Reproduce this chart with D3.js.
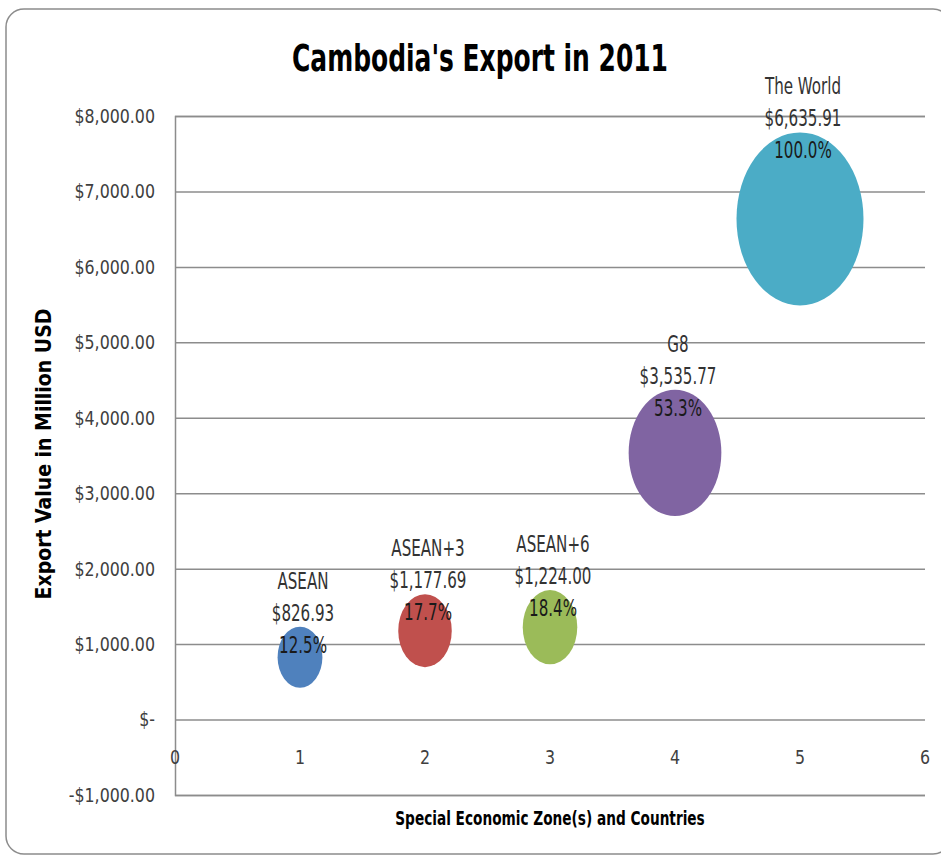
<!DOCTYPE html>
<html>
<head>
<meta charset="utf-8">
<script src="https://cdn.jsdelivr.net/npm/d3@7"></script>
<style>
  body { margin: 0; background: #fff; }
  svg { display: block; }
  text { font-family: "Liberation Sans Narrow", "DejaVu Sans Condensed", "Open Sans", sans-serif; }
</style>
</head>
<body>
<svg width="941" height="860"></svg>
<script>
// data
const groups = ["ASEAN", "ASEAN+3", "ASEAN+6", "G8", "The World"];
const positions = [1, 2, 3, 4, 5];
const exports = [826.93, 1177.69, 1224.0, 3535.77, 6635.91];
const shares = [12.5, 17.7, 18.4, 53.3, 100.0];
const colors = ["#4f81bd", "#c0504d", "#9bbb59", "#8064a2", "#4bacc6"];
const yTicks = [-1000, 0, 1000, 2000, 3000, 4000, 5000, 6000, 7000, 8000];
const xTicks = [0, 1, 2, 3, 4, 5, 6];

const svg = d3.select("svg");

// outer chart frame
svg.append("rect")
  .attr("x", 6).attr("y", 9)
  .attr("width", 945).attr("height", 845)
  .attr("rx", 18)
  .attr("fill", "#fff")
  .attr("stroke", "#8c8c8c")
  .attr("stroke-width", 1.5);

const plotLeft = 175, plotRight = 925, plotTop = 116, plotBottom = 795;

const x = d3.scaleLinear().domain([0, 6]).range([plotLeft, plotRight]);
const y = d3.scaleLinear().domain([-1000, 8000]).range([plotBottom, plotTop]);
const rx = d3.scaleSqrt().domain([0, d3.max(exports)]).range([0, 63.5]);
const ry = d3.scaleSqrt().domain([0, d3.max(exports)]).range([0, 86.5]);

const money = d3.format(",.2f");
function fmtTick(v) {
  if (v === 0) return "$-";
  return (v < 0 ? "-$" : "$") + money(Math.abs(v));
}

// narrow text: the original has tall, squeezed lettering
function label(px, py, str, size, sx, opts = {}) {
  return svg.append("text")
    .attr("transform", `translate(${px},${py}) scale(${sx},1)`)
    .attr("dy", "0.35em")
    .attr("text-anchor", opts.anchor || "middle")
    .attr("font-size", size)
    .attr("font-weight", opts.weight || "normal")
    .attr("fill", opts.fill || "#000")
    .text(str);
}

// gridlines + y labels
const tickSx = 0.88;
const yAxis = d3.axisLeft(y).tickValues(yTicks).tickSize(-(plotRight - plotLeft)).tickFormat(fmtTick);
const gy = svg.append("g").attr("transform", `translate(${plotLeft},0)`).call(yAxis);
gy.select(".domain").attr("stroke", "#8c8c8c").attr("stroke-width", 1.5);
gy.selectAll(".tick line").attr("stroke", "#8c8c8c").attr("stroke-width", 1.5);
gy.selectAll(".tick text")
  .attr("x", -20 / tickSx)
  .attr("transform", `scale(${tickSx},1)`)
  .attr("font-size", 20)
  .attr("fill", "#404040");

// x tick labels (axis line sits at zero, labels below it)
const xAxis = d3.axisBottom(x).tickValues(xTicks).tickSize(0).tickPadding(0).tickFormat(d3.format("d"));
const gx = svg.append("g").attr("transform", `translate(0,${y(0) + 30})`).call(xAxis);
gx.select(".domain").remove();
gx.selectAll(".tick text")
  .attr("x", (d) => 0)
  .attr("transform", `scale(${tickSx},1)`)
  .attr("font-size", 20)
  .attr("fill", "#404040");
gx.selectAll(".tick")
  .attr("transform", (d) => `translate(${x(d)},0)`);

// bubbles
const bubbles = svg.append("g");
groups.forEach((g, i) => {
  bubbles.append("ellipse")
    .attr("cx", x(positions[i]))
    .attr("cy", y(exports[i]))
    .attr("rx", rx(exports[i]))
    .attr("ry", ry(exports[i]))
    .attr("fill", colors[i]);
});

// data labels
groups.forEach((g, i) => {
  const cx = x(positions[i]) + 3;
  const topY = y(exports[i]) - ry(exports[i]);
  const lines = [g, "$" + money(exports[i]), shares[i].toFixed(1) + "%"];
  lines.forEach((t, j) => {
    label(cx, topY + 18 - (2 - j) * 32, t, 23, 0.73, { fill: j === 2 ? "#1a1a1a" : "#333" });
  });
});

// title
label(480, 58, "Cambodia's Export in 2011", 38, 0.73, { weight: "bold" });

// axis titles
svg.append("text")
  .attr("transform", "translate(44,454) rotate(-90)")
  .attr("dy", "0.35em")
  .attr("text-anchor", "middle")
  .attr("font-size", 21)
  .attr("font-weight", "bold")
  .attr("fill", "#000")
  .text("Export Value in Million USD");

label(550, 818, "Special Economic Zone(s) and Countries", 20, 0.76, { weight: "bold" });
</script>
</body>
</html>
